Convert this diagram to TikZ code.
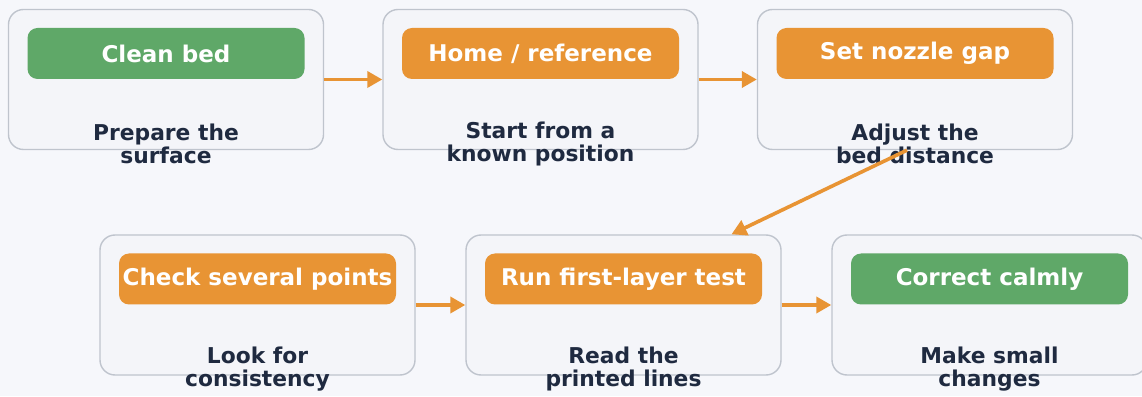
\documentclass[tikz,border=0pt]{standalone}
\usepackage{fontspec}
\setmainfont{DejaVu Sans}
\usetikzlibrary{arrows.meta}

\definecolor{bgcol}{HTML}{F6F7FB}
\definecolor{cardfill}{HTML}{F4F5F9}
\definecolor{cardline}{HTML}{BFC4CD}
\definecolor{okgreen}{HTML}{5FA868}
\definecolor{stepor}{HTML}{E89434}
\definecolor{inkcol}{HTML}{1F2A40}

\begin{document}
\begin{tikzpicture}[x=1pt,y=1pt,
  card/.style={draw=cardline,line width=1.4pt,fill=cardfill,rounded corners=15pt,minimum width=315pt,minimum height=140pt},
  pill/.style={rounded corners=10pt,minimum width=277pt,minimum height=51pt,text=white,font=\bfseries\fontsize{23}{25}\selectfont},
  sub/.style={align=center,text=inkcol,font=\bfseries\fontsize{21.8}{23}\selectfont},
  arr/.style={-{Triangle[length=15pt,width=16pt]},draw=stepor,line width=3.6pt}]
\path[use as bounding box,fill=bgcol] (0,0) rectangle (1142,396);
\clip (0,0) rectangle (1142,396);
% top row
\node[card] (c1) at (166,316.5) {};
\node[card] (c2) at (540.5,316.5) {};
\node[card] (c3) at (915,316.5) {};
\node[pill,fill=okgreen] (p1) at ([yshift=26]c1.center) {Clean bed};
\node[pill,fill=stepor] (p2) at ([yshift=26]c2.center) {Home / reference};
\node[pill,fill=stepor] (p3) at ([yshift=26]c3.center) {Set nozzle gap};
\node[sub] (s1) at ([yshift=-64]c1.center) {Prepare the\\surface};
\node[sub] (s2) at ([yshift=-64]c2.center) {Start from a\\known position};
\node[sub] (s3) at ([yshift=-64]c3.center) {Adjust the\\bed distance};
% bottom row
\node[card] (c4) at (257.5,91) {};
\node[card] (c5) at (623.5,91) {};
\node[card] (c6) at (989.5,91) {};
\node[pill,fill=stepor] (p4) at ([yshift=26]c4.center) {Check several points};
\node[pill,fill=stepor] (p5) at ([yshift=26]c5.center) {Run first-layer test};
\node[pill,fill=okgreen] (p6) at ([yshift=26]c6.center) {Correct calmly};
\node[sub] (s4) at ([yshift=-64]c4.center) {Look for\\consistency};
\node[sub] (s5) at ([yshift=-64]c5.center) {Read the\\printed lines};
\node[sub] (s6) at ([yshift=-64]c6.center) {Make small\\changes};
% flow
\draw[arr] (c1.east) -- (c2.west);
\draw[arr] (c2.east) -- (c3.west);
\draw[arr] ([xshift=-8]c3.south) -- ([xshift=108]c5.north);
\draw[arr] (c4.east) -- (c5.west);
\draw[arr] (c5.east) -- (c6.west);
\end{tikzpicture}
\end{document}
